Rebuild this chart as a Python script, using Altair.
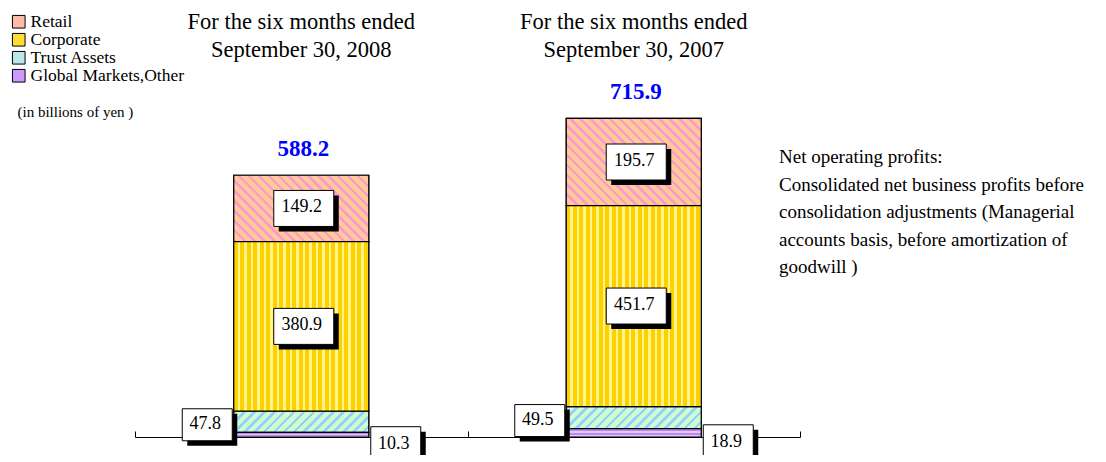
import math
import altair as alt
import pandas as pd

# ---------------- data ----------------
periods = [
    "For the six months ended|September 30, 2008",
    "For the six months ended|September 30, 2007",
]
segments = ["Retail", "Corporate", "Trust Assets", "Global Markets,Other"]
retail = [149.2, 195.7]
corporate = [380.9, 451.7]
trust_assets = [47.8, 49.5]
global_other = [10.3, 18.9]
totals = [588.2, 715.9]
stack_order = {"Global Markets,Other": 0, "Trust Assets": 1, "Corporate": 2, "Retail": 3}

rows = []
for i, p in enumerate(periods):
    for seg, vals in zip(segments, [retail, corporate, trust_assets, global_other]):
        rows.append({"period": p, "segment": seg, "value": vals[i], "order": stack_order[seg]})
df = pd.DataFrame(rows)
tot_df = pd.DataFrame({"period": periods, "total": totals})

# ---------------- style ----------------
SERIF = "Liberation Serif"
W, H = 665, 356
YMAX = 800
BAR_W = 135
PX = H / YMAX
flat_colors = ["#FFBBAA", "#FFDD33", "#B8E8E8", "#CC99FF"]


def stops_along(pattern, length):
    stops = []
    pos = 0.0
    while pos < length:
        for color, w in pattern:
            a = pos / length
            if a >= 1:
                break
            b = min((pos + w) / length, 1.0)
            stops.append({"offset": round(a, 4), "color": color})
            stops.append({"offset": round(b, 4), "color": color})
            pos += w
    return stops


def vstripes(pattern, w):
    return {"gradient": "linear", "x1": 0, "y1": 0, "x2": 1, "y2": 0,
            "stops": stops_along(pattern, w)}


def hstripes(pattern, h):
    return {"gradient": "linear", "x1": 0, "y1": 0, "x2": 0, "y2": 1,
            "stops": stops_along(pattern, h)}


def diag(pattern, w, h, kind):
    k = (w + h) / (w * w + h * h)
    L = (w + h) / math.sqrt(2)
    if kind == "back":  # stripes running down-right
        x1, y1, x2, y2 = 0, 1, k * w, 1 - k * h
    else:  # stripes running up-right
        x1, y1, x2, y2 = 0, 0, k * w, k * h
    return {"gradient": "linear", "x1": x1, "y1": y1, "x2": round(x2, 4), "y2": round(y2, 4),
            "stops": stops_along(pattern, L)}


retail_pat = [("#FF99CC", 2.5), ("#FFCC99", 4.5)]
corp_pat = [("#FFD000", 4.0), ("#FFF58A", 2.5)]
trust_pat = [("#99CCFF", 2.5), ("#CCFFCC", 4.5)]
global_pat = [("#BB88EE", 1.6), ("#E2C8FF", 1.6)]

x_scale = alt.Scale(domain=periods, paddingInner=0, paddingOuter=0)
y_scale = alt.Scale(domain=[0, YMAX], nice=False, zero=True)


def xenc(axis=None):
    return alt.X("period:N", scale=x_scale, axis=axis)


header_axis = alt.Axis(
    orient="top", domain=False, ticks=False, tickSize=0, grid=False, title=None,
    labelExpr="split(datum.label, '|')", labelFont=SERIF, labelFontSize=22.5,
    labelColor="black", labelPadding=48, labelLineHeight=28, labelBaseline="bottom",
    labelAlign="center", labelLimit=600, labelAngle=0,
)
tick_axis = alt.Axis(
    orient="top", offset=-H, domain=True, domainColor="black", domainWidth=1,
    ticks=True, tickBand="extent", tickSize=6, tickColor="black", tickWidth=1,
    labels=False, grid=False, title=None,
)
y_axis = alt.Axis(
    domain=False, ticks=False, labels=False, grid=False,
    title="(in billions of yen )", titleAngle=0, titleX=-118, titleY=30,
    titleAlign="left", titleBaseline="middle", titleFont=SERIF, titleFontSize=15,
    titleFontWeight="normal", titleColor="black",
)

base = alt.Chart(df).transform_stack(
    stack="value", groupby=["period"], sort=[alt.SortField("order", order="ascending")],
    as_=["y0", "y1"],
).transform_calculate(mid="(datum.y0 + datum.y1) / 2")

layers = []

# flat bars (carry the legend), covered by patterned bars
layers.append(
    base.mark_bar(width=BAR_W, stroke="black", strokeWidth=1.2).encode(
        x=xenc(header_axis),
        y=alt.Y("y1:Q", scale=y_scale, axis=y_axis),
        y2="y0:Q",
        color=alt.Color(
            "segment:N",
            scale=alt.Scale(domain=segments, range=flat_colors),
            legend=alt.Legend(
                orient="none", legendX=-125, legendY=-68, title=None,
                symbolType="square", symbolSize=160, symbolStrokeColor="black",
                symbolStrokeWidth=1, symbolOpacity=1, labelFont=SERIF, labelFontSize=17.5,
                labelColor="black", rowPadding=-3.5, labelOffset=3,
            ),
        ),
    )
)

# patterned bars
for i, p in enumerate(periods):
    for seg, vals, pat, kind in [("Retail", retail, retail_pat, "back"),
                                 ("Trust Assets", trust_assets, trust_pat, "fwd")]:
        h = vals[i] * PX
        layers.append(
            base.transform_filter((alt.datum.segment == seg) & (alt.datum.period == p))
            .mark_bar(width=BAR_W, fill=diag(pat, BAR_W, h, kind), stroke="black", strokeWidth=1.2)
            .encode(x=xenc(), y=alt.Y("y1:Q", scale=y_scale, axis=None), y2="y0:Q")
        )
layers.append(
    base.transform_filter(alt.datum.segment == "Corporate")
    .mark_bar(width=BAR_W, fill=vstripes(corp_pat, BAR_W), stroke="black", strokeWidth=1.2)
    .encode(x=xenc(), y=alt.Y("y1:Q", scale=y_scale, axis=None), y2="y0:Q")
)
layers.append(
    base.transform_filter(alt.datum.segment == "Global Markets,Other")
    .mark_bar(width=BAR_W, fill=hstripes(global_pat, 6), stroke="black", strokeWidth=1.2)
    .encode(x=xenc(), y=alt.Y("y1:Q", scale=y_scale, axis=None), y2="y0:Q")
)

# value labels in boxes with drop shadow
label_groups = [
    (["Retail", "Corporate"], 2.5, 0, "M-1,-0.6H1V0.6H-1Z", 3600),
    (["Trust Assets"], -94, 3, "M-1,-0.64H1V0.64H-1Z", 2500),
    (["Global Markets,Other"], 94.5, 10, "M-1,-0.72H1V0.72H-1Z", 2500),
]
for segs, xo, yo, path, size in label_groups:
    lb = base.transform_filter(alt.FieldOneOfPredicate(field="segment", oneOf=segs))
    enc = dict(x=xenc(), y=alt.Y("mid:Q", scale=y_scale, axis=None))
    layers.append(lb.mark_point(shape=path, size=size, filled=True, color="black", fill="black",
                                opacity=1, strokeWidth=0, xOffset=xo + 5, yOffset=yo + 5).encode(**enc))
    layers.append(lb.mark_point(shape=path, size=size, filled=True, color="white", fill="white",
                                stroke="black", strokeWidth=1, opacity=1,
                                xOffset=xo, yOffset=yo).encode(**enc))
    layers.append(lb.mark_text(font=SERIF, fontSize=18, color="black", align="center",
                               baseline="middle", xOffset=xo - 2, yOffset=yo - 1)
                  .encode(text=alt.Text("value:Q", format=".1f"), **enc))

# totals (also carries the baseline axis with upward ticks)
layers.append(
    alt.Chart(tot_df).mark_text(font=SERIF, fontSize=23, fontWeight="bold", color="#0000FF",
                                align="center", baseline="alphabetic", dy=-19, dx=2)
    .encode(x=xenc(tick_axis), y=alt.Y("total:Q", scale=y_scale, axis=None),
            text=alt.Text("total:Q", format=".1f"))
)

chart = alt.layer(*layers).resolve_axis(x="independent", y="independent").properties(
    width=W, height=H,
    autosize=alt.AutoSizeParams(type="none"),
    padding={"left": 127, "top": 73, "right": 290, "bottom": 18},
    title=alt.TitleParams(
        text=[
            "Net operating profits:",
            "Consolidated net business profits before",
            "consolidation adjustments (Managerial",
            "accounts basis, before amortization of",
            "goodwill )",
        ],
        anchor="start", orient="top", frame="group", align="left", baseline="top",
        dx=644, dy=267, font=SERIF, fontSize=19, fontWeight="normal",
        lineHeight=27.5, color="black", offset=0,
    ),
).configure(
    background="white",
    view=alt.ViewConfig(stroke="transparent", strokeWidth=0),
)

chart.save("out.html", embed_options={"renderer": "svg", "actions": False})
